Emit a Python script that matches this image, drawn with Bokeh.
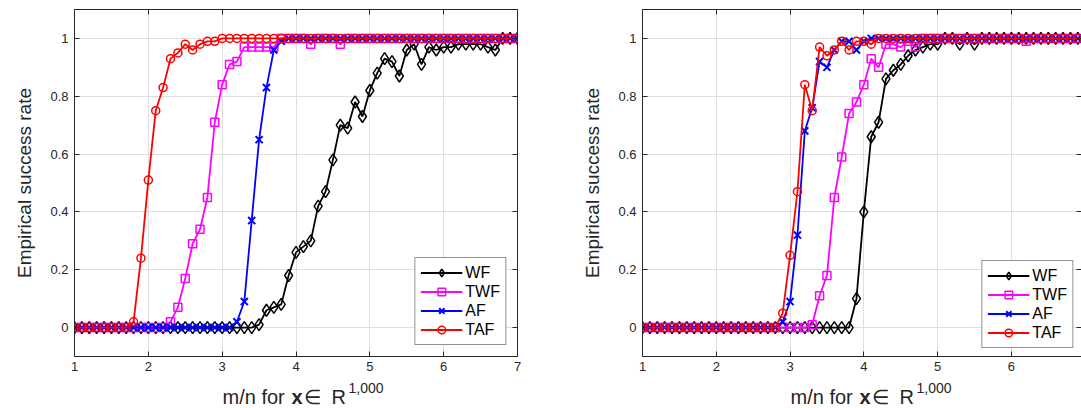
from bokeh.plotting import figure
from bokeh.layouts import row, column
from bokeh.models import (Range1d, FixedTicker, LinearAxis, Legend, LegendItem,
                          CustomJSTickFormatter)
from bokeh.core.properties import value
from bokeh.embed import file_html
from bokeh.resources import INLINE

# ---------------- data ----------------
x_vals = [1.0, 1.1, 1.2, 1.3, 1.4, 1.5, 1.6, 1.7, 1.8, 1.9,
          2.0, 2.1, 2.2, 2.3, 2.4, 2.5, 2.6, 2.7, 2.8, 2.9,
          3.0, 3.1, 3.2, 3.3, 3.4, 3.5, 3.6, 3.7, 3.8, 3.9,
          4.0, 4.1, 4.2, 4.3, 4.4, 4.5, 4.6, 4.7, 4.8, 4.9,
          5.0, 5.1, 5.2, 5.3, 5.4, 5.5, 5.6, 5.7, 5.8, 5.9,
          6.0, 6.1, 6.2, 6.3, 6.4, 6.5, 6.6, 6.7, 6.8, 6.9,
          7.0]

series_names = ["WF", "TWF", "AF", "TAF"]

# left panel
left_wf = [0, 0, 0, 0, 0, 0, 0, 0, 0, 0,
           0, 0, 0, 0, 0, 0, 0, 0, 0, 0,
           0, 0, 0, 0, 0, 0.01, 0.06, 0.07, 0.08, 0.18,
           0.26, 0.28, 0.30, 0.42, 0.47, 0.58, 0.70, 0.69, 0.78, 0.73,
           0.82, 0.88, 0.93, 0.92, 0.87, 0.96, 0.98, 0.91, 0.97, 0.96,
           0.97, 0.97, 0.98, 0.98, 0.98, 0.98, 0.97, 0.96, 1, 1,
           1]
left_twf = [0, 0, 0, 0, 0, 0, 0, 0, 0, 0,
            0, 0, 0, 0.02, 0.07, 0.17, 0.29, 0.34, 0.45, 0.71,
            0.84, 0.91, 0.92, 0.97, 0.97, 0.97, 0.97, 0.97, 1, 1,
            1, 1, 0.98, 1, 1, 1, 0.98, 1, 1, 1,
            1, 1, 1, 1, 1, 1, 1, 1, 1, 1,
            1, 1, 1, 1, 1, 1, 1, 1, 1, 1,
            1]
left_af = [0, 0, 0, 0, 0, 0, 0, 0, 0, 0,
           0, 0, 0, 0, 0, 0, 0, 0, 0, 0,
           0, 0, 0.02, 0.09, 0.37, 0.65, 0.83, 0.96, 0.99, 1,
           1, 1, 1, 1, 1, 1, 1, 1, 1, 1,
           1, 1, 1, 1, 1, 1, 1, 1, 1, 1,
           1, 1, 1, 1, 1, 1, 1, 1, 1, 1,
           1]
left_taf = [0, 0, 0, 0, 0, 0, 0, 0, 0.02, 0.24,
            0.51, 0.75, 0.83, 0.93, 0.95, 0.98, 0.96, 0.98, 0.99, 0.99,
            1, 1, 1, 1, 1, 1, 1, 1, 1, 1,
            1, 1, 1, 1, 1, 1, 1, 1, 1, 1,
            1, 1, 1, 1, 1, 1, 1, 1, 1, 1,
            1, 1, 1, 1, 1, 1, 1, 1, 1, 1,
            1]

# right panel
right_wf = [0, 0, 0, 0, 0, 0, 0, 0, 0, 0,
            0, 0, 0, 0, 0, 0, 0, 0, 0, 0,
            0, 0, 0, 0, 0, 0, 0, 0, 0, 0.10,
            0.40, 0.66, 0.71, 0.86, 0.89, 0.91, 0.94, 0.96, 0.97, 0.98,
            0.98, 1, 1, 0.98, 1, 0.98, 1, 1, 1, 1,
            1, 1, 1, 1, 1, 1, 1, 1, 1, 1,
            1]
right_twf = [0, 0, 0, 0, 0, 0, 0, 0, 0, 0,
             0, 0, 0, 0, 0, 0, 0, 0, 0, 0,
             0, 0, 0, 0.01, 0.11, 0.18, 0.45, 0.59, 0.74, 0.78,
             0.84, 0.93, 0.90, 0.98, 0.98, 0.97, 0.99, 0.97, 1, 1,
             1, 1, 1, 1, 1, 1, 1, 1, 1, 1,
             1, 1, 0.99, 1, 1, 1, 1, 1, 1, 1,
             1]
right_af = [0, 0, 0, 0, 0, 0, 0, 0, 0, 0,
            0, 0, 0, 0, 0, 0, 0, 0, 0, 0.02,
            0.09, 0.32, 0.68, 0.76, 0.92, 0.90, 0.96, 0.99, 0.99, 0.96,
            0.99, 1, 1, 1, 1, 1, 1, 1, 1, 1,
            1, 1, 1, 1, 1, 1, 1, 1, 1, 1,
            1, 1, 1, 1, 1, 1, 1, 1, 1, 1,
            1]
right_taf = [0, 0, 0, 0, 0, 0, 0, 0, 0, 0,
             0, 0, 0, 0, 0, 0, 0, 0, 0, 0.05,
             0.25, 0.47, 0.84, 0.75, 0.97, 0.94, 0.96, 0.99, 0.96, 0.99,
             0.99, 0.98, 1, 1, 1, 1, 1, 1, 1, 1,
             1, 1, 1, 1, 1, 1, 1, 1, 1, 1,
             1, 1, 1, 1, 1, 1, 1, 1, 1, 1,
             1]

x_ticks = [1, 2, 3, 4, 5, 6, 7]
y_ticks = [0, 0.2, 0.4, 0.6, 0.8, 1]
y_label = "Empirical success rate"
# x label pieces: text, weight, is superscript
xlabel_parts = [("m/n for", "normal", False), ("x", "bold", False),
                ("\u2208", "normal", False), ("R", "normal", False),
                ("1,000", "normal", True)]

# ---------------- styling ----------------
FONT = "Liberation Sans"
AX = "#262626"
GRID = "#dfdfdf"
STYLES = [
    dict(color="#000000", marker="diamond", size=12),
    dict(color="#ff00ff", marker="square", size=8),
    dict(color="#0000ff", marker="x", size=10),
    dict(color="#ff0000", marker="circle", size=8),
]
PART_DX = [0, 69, 81, 109, 126]   # px offsets of the x-label pieces


def style_axis(ax, ticks, show_labels, standoff=6, line=True):
    ax.ticker = FixedTicker(ticks=ticks)
    ax.axis_line_color = AX if line else None
    ax.axis_line_width = 1
    ax.major_tick_line_color = AX
    ax.major_tick_in = 5
    ax.major_tick_out = 0
    ax.minor_tick_line_color = None
    if show_labels:
        ax.major_label_text_font = FONT
        ax.major_label_text_font_size = "13px"
        ax.major_label_text_color = AX
        ax.major_label_standoff = standoff
        ax.formatter = CustomJSTickFormatter(code="return (Math.round(tick*10)/10).toString();")
    else:
        ax.major_label_text_font_size = "0px"
        ax.major_label_standoff = 0
        ax.formatter = CustomJSTickFormatter(code="return '';")


def make_panel(series, width, mbl, mbr, x_end, leg_margin, right_edge_visible):
    p = figure(width=width, height=380, output_backend="svg", toolbar_location=None,
               x_range=Range1d(1, x_end), y_range=Range1d(-0.1, 1.1),
               min_border_left=mbl, min_border_right=mbr,
               min_border_top=9, min_border_bottom=24)
    p.background_fill_color = "white"
    p.border_fill_color = "white"
    p.outline_line_color = None

    style_axis(p.xaxis[0], x_ticks, True, standoff=5)
    style_axis(p.yaxis[0], y_ticks, True, standoff=6)
    p.yaxis.axis_label = y_label
    p.yaxis.axis_label_text_font = FONT
    p.yaxis.axis_label_text_font_size = "19px"
    p.yaxis.axis_label_text_font_style = "normal"
    p.yaxis.axis_label_text_color = AX
    p.yaxis.axis_label_standoff = 12

    top = LinearAxis()
    style_axis(top, x_ticks, False)
    p.add_layout(top, "above")
    right = LinearAxis()
    style_axis(right, y_ticks, False, line=right_edge_visible)
    p.add_layout(right, "right")

    p.xgrid.ticker = FixedTicker(ticks=x_ticks)
    p.ygrid.ticker = FixedTicker(ticks=y_ticks)
    p.xgrid.grid_line_color = GRID
    p.ygrid.grid_line_color = GRID

    items = []
    for name, ys, st in zip(series_names, series, STYLES):
        rl = p.line(x_vals, ys, line_color=st["color"], line_width=1.8)
        rm = p.scatter(x_vals, ys, marker=st["marker"], size=st["size"],
                       line_color=st["color"], fill_color=None,
                       line_width=2 if st["marker"] == "x" else 1.5)
        items.append(LegendItem(label=name, renderers=[rl, rm]))

    leg = Legend(items=items, location="bottom_right", margin=leg_margin,
                 border_line_color=AX, border_line_width=1,
                 background_fill_color="white", background_fill_alpha=1,
                 label_text_font=FONT, label_text_font_size="16px",
                 label_text_color="#000000", glyph_width=42, glyph_height=19,
                 label_height=19, label_standoff=3, padding=5, spacing=0)
    p.add_layout(leg)
    return p


p1 = make_panel([left_wf, left_twf, left_af, left_taf], 568, 74, 51, 7, 11, True)
p2 = make_panel([right_wf, right_twf, right_af, right_taf], 513, 74, 0, 6.95, 8, False)

# strip holding the x-axis titles (bold x and superscript need separate pieces)
strip = figure(width=1081, height=28, output_backend="svg", toolbar_location=None,
               x_range=Range1d(0, 1081), y_range=Range1d(0, 28),
               x_axis_type=None, y_axis_type=None,
               min_border_left=0, min_border_right=0, min_border_top=0, min_border_bottom=0)
strip.outline_line_color = None
strip.background_fill_color = "white"
strip.border_fill_color = "white"
for start in (222, 790):
    for (txt, weight, sup), dx in zip(xlabel_parts, PART_DX):
        strip.text(x=[start + dx], y=[20.5 if sup else 11.3], text=[txt],
                   text_font=value(FONT),
                   text_font_size=value("14px" if sup else "20px"),
                   text_font_style=weight, text_color=AX,
                   text_baseline="alphabetic", text_align="left")

layout = column(row(p1, p2), strip)
open("out.html", "w").write(file_html(layout, INLINE))
